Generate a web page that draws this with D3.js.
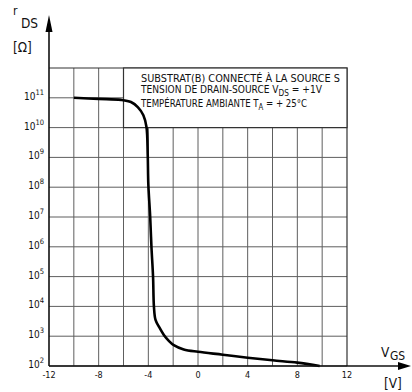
<!DOCTYPE html>
<html lang="fr">
<head>
  <meta charset="UTF-8">
  <title>rDS = f(VGS)</title>
  <style>
    body { margin: 0; background: #fff; }
    svg { display: block; }
    text {
      font-family: "DejaVu Sans Condensed", "DejaVu Sans", sans-serif;
      fill: #111;
    }
    .grid line { stroke: #5e5e5e; stroke-width: 1; }
    .frame { stroke: #333; stroke-width: 1.2; fill: none; }
    .axis { stroke: #111; stroke-width: 1.6; }
    .curve { fill: none; stroke: #000; stroke-width: 2.6; stroke-linejoin: round; }
    .tick { font-size: 9px; }
    .note { font-size: 10.5px; }
  </style>
</head>
<body>
  <svg width="412" height="392"></svg>

  <script src="https://d3js.org/d3.v7.min.js"></script>
  <script>
    // curve (VGS in volts, rDS in ohms)
    var vgs = [-10, -8, -6.2, -5.4, -4.85, -4.4, -4.15, -4.05, -4.0, -3.85, -3.75, -3.62, -3.55, -3.42, -3.15, -2.75, -2.35, -1.95, -1.15, 0, 2, 4, 6, 8, 9.8];
    var rds = [1e11, 9.2e10, 8.5e10, 7.2e10, 4.9e10, 2.6e10, 1.05e10, 1.25e9, 1.25e8, 1e7, 1e6, 1e5, 1e4, 3500, 2100, 1100, 700, 500, 360, 300, 240, 190, 155, 130, 100];

    var xTicks = [-12, -8, -4, 0, 4, 8, 12];
    var xGrid = [-10, -8, -6, -4, -2, 0, 2, 4, 6, 8, 10];
    var yExponents = [2, 3, 4, 5, 6, 7, 8, 9, 10, 11];

    var noteLines = [
      ["SUBSTRAT(B) CONNECTÉ À LA SOURCE S"],
      ["TENSION DE DRAIN-SOURCE V", "DS", " = +1V"],
      ["TEMPÉRATURE AMBIANTE T", "A", " = + 25°C"]
    ];

    var svg = d3.select("svg");

    var x = d3.scaleLinear().domain([-12, 12]).range([49, 347]);
    var y = d3.scaleLog().domain([1e2, 1e12]).range([366, 68]);

    // grid
    var grid = svg.append("g").attr("class", "grid");
    grid.selectAll("line.v")
        .data(xGrid)
        .enter().append("line")
        .attr("x1", d => x(d)).attr("x2", d => x(d))
        .attr("y1", y(1e2)).attr("y2", y(1e12));
    grid.selectAll("line.h")
        .data(yExponents)
        .enter().append("line")
        .attr("x1", x(-12)).attr("x2", x(12))
        .attr("y1", d => y(Math.pow(10, d))).attr("y2", d => y(Math.pow(10, d)));

    // frame: top and right
    svg.append("path")
        .attr("class", "frame")
        .attr("d", "M" + x(-12) + "," + y(1e12) + "H" + x(12) + "V" + y(1e2));

    // note box on top of the grid
    svg.append("rect")
        .attr("x", x(-6)).attr("y", y(1e12))
        .attr("width", x(12) - x(-6)).attr("height", y(1e10) - y(1e12))
        .attr("fill", "#fff").attr("stroke", "#333").attr("stroke-width", 1.2);

    var noteY = [82, 93, 106.5];
    var noteW = [199, 181, 166];
    noteLines.forEach(function(parts, i) {
      var t = svg.append("text")
          .attr("class", "note")
          .attr("x", 141).attr("y", noteY[i])
          .attr("textLength", noteW[i])
          .attr("lengthAdjust", "spacingAndGlyphs");
      t.append("tspan").text(parts[0]);
      if (parts.length > 1) {
        t.append("tspan").attr("dy", 3).attr("font-size", "8.5px").text(parts[1]);
        t.append("tspan").attr("dy", -3).text(parts[2]);
      }
    });

    // curve
    var line = d3.line()
        .x((d, i) => x(vgs[i]))
        .y(d => y(d))
        .curve(d3.curveCatmullRom.alpha(0.5));
    svg.append("path")
        .datum(rds)
        .attr("class", "curve")
        .attr("d", line);

    // axes with arrows
    svg.append("line").attr("class", "axis")
        .attr("x1", x(-12)).attr("x2", 400)
        .attr("y1", y(1e2)).attr("y2", y(1e2));
    svg.append("path")
        .attr("d", "M398," + (y(1e2) - 4) + "L411," + y(1e2) + "L398," + (y(1e2) + 4) + "Z")
        .attr("fill", "#000");
    svg.append("line").attr("class", "axis")
        .attr("x1", x(-12)).attr("x2", x(-12))
        .attr("y1", y(1e2)).attr("y2", 28);
    svg.append("path")
        .attr("d", "M" + (x(-12) - 3.5) + ",32L" + x(-12) + ",15L" + (x(-12) + 3.5) + ",32Z")
        .attr("fill", "#000");

    // x tick labels
    svg.append("g").selectAll("text")
        .data(xTicks)
        .enter().append("text")
        .attr("class", "tick")
        .attr("x", d => x(d))
        .attr("y", 378)
        .attr("text-anchor", "middle")
        .text(d => d < 0 ? "-" + Math.abs(d) : d);

    // y tick labels 10^n
    var yl = svg.append("g").selectAll("text")
        .data(yExponents)
        .enter().append("text")
        .attr("class", "tick")
        .attr("x", 44)
        .attr("y", d => y(Math.pow(10, d)) + 2)
        .attr("text-anchor", "end");
    yl.append("tspan").attr("font-size", "10px").text("10");
    yl.append("tspan").attr("dy", -5).attr("font-size", "7.5px").text(d => d);

    // axis titles
    svg.append("text").attr("x", 13).attr("y", 15).attr("font-size", "12px").text("r");
    svg.append("text").attr("x", 21).attr("y", 28).attr("font-size", "13.5px").text("DS");
    svg.append("text").attr("x", 13).attr("y", 52).attr("font-size", "13.5px").text("[Ω]");

    svg.append("text").attr("x", 381).attr("y", 357).attr("font-size", "13.5px").text("V");
    svg.append("text").attr("x", 390).attr("y", 360).attr("font-size", "12px").text("GS");
    svg.append("text").attr("x", 384).attr("y", 388).attr("font-size", "13.5px").text("[V]");
  </script>
</body>
</html>
